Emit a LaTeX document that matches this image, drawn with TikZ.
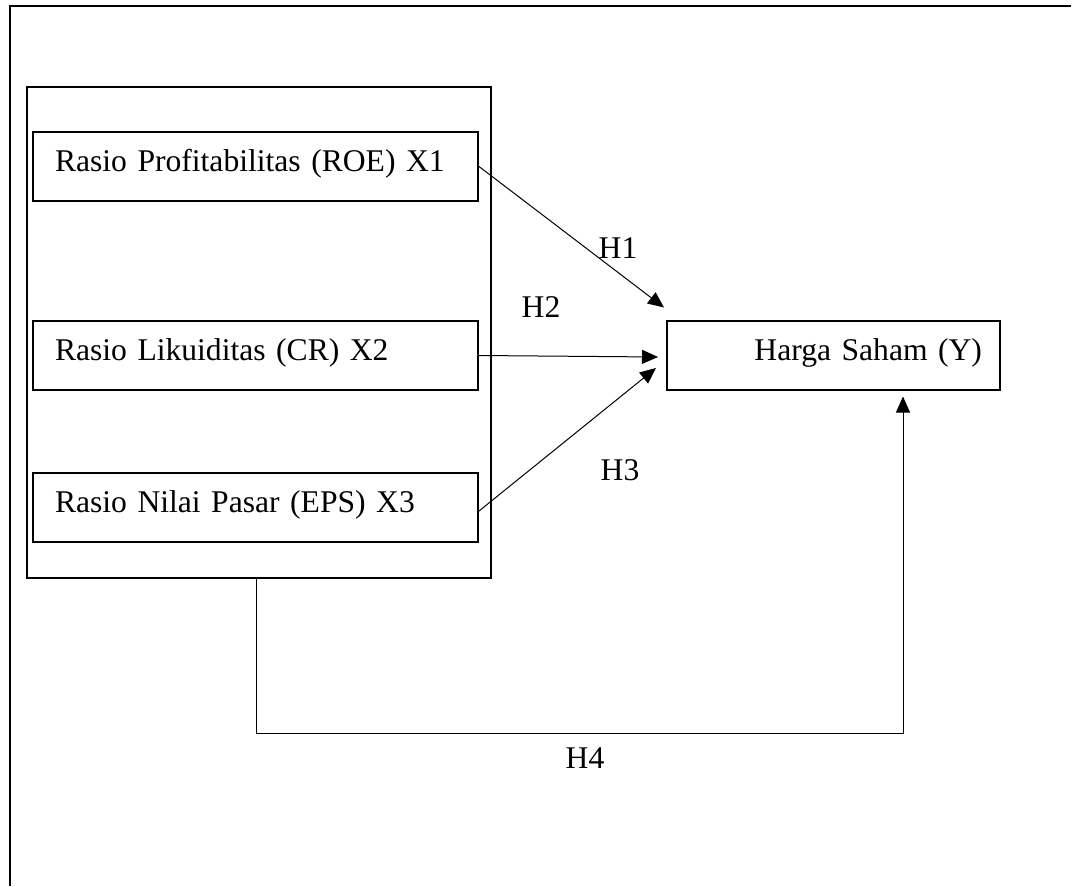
\documentclass[tikz,border=0pt]{standalone}
\usepackage{fontspec}
\setmainfont{Liberation Serif}
\usetikzlibrary{arrows.meta,calc}
\begin{document}
\begin{tikzpicture}[x=1pt,y=-1pt,
  frame/.style={line width=2pt},
  varbox/.style={draw,line width=2pt,rectangle,minimum height=69pt,inner xsep=22pt,
    text height=22pt,text depth=12pt,font=\fontsize{31.6}{36}\selectfont},
  lbl/.style={font=\fontsize{31.6}{36}\selectfont,anchor=base,inner sep=0pt},
  arr/.style={line width=1pt,-{Triangle[length=16pt,width=14pt]}}]
\useasboundingbox (0,0) rectangle (1075,886);
% outer frame (top and left only)
\draw[frame] (1071,6) -- (10,6) -- (10,886);
% grouping box
\node[draw,line width=2pt,rectangle,minimum width=464pt,minimum height=491pt,inner sep=0pt] (big) at (259,332.5) {};
% variable boxes
\node[varbox,minimum width=445pt,text width=401pt,align=left] (x1) at (255.5,166.5) {Rasio Profitabilitas (ROE) X1};
\node[varbox,minimum width=445pt,text width=401pt,align=left] (x2) at (255.5,355.5) {Rasio Likuiditas (CR) X2};
\node[varbox,minimum width=445pt,text width=401pt,align=left] (x3) at (255.5,507) {Rasio Nilai Pasar (EPS) X3};
\node[varbox,minimum width=333pt,inner xsep=18pt,text width=297pt,align=right] (y) at (833.5,355) {Harga Saham (Y)};
% arrow targets
\coordinate (t1) at ($(y.north west)+(-2,-12)$);
\coordinate (t2) at ($(y.west)+(-8,2)$);
\coordinate (t3) at ($(y.west)+(-10,13)$);
\coordinate (c1) at (256,733);
\coordinate (c2) at (903,733);
% connectors
\draw[arr] (x1.east) -- (t1);
\draw[arr] (x2.east) -- (t2);
\draw[arr] ($(x3.east)+(0,4)$) -- (t3);
\draw[arr,shorten >=6pt] (c1 |- big.south) -- (c1) -- (c2) -- (c2 |- y.south);
% labels
\node[lbl] (h1) at (618,258) {H1};
\node[lbl] (h2) at (541,317) {H2};
\node[lbl] (h3) at (620,480) {H3};
\node[lbl] (h4) at (585,768) {H4};
\end{tikzpicture}
\end{document}
